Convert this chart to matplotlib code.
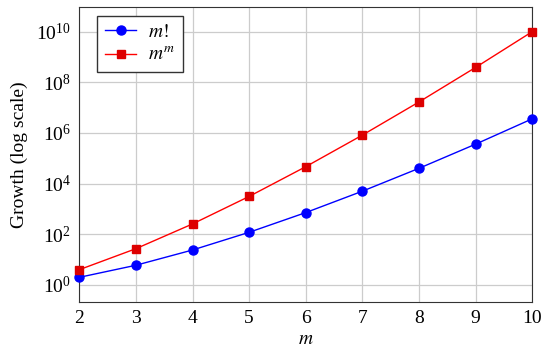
import matplotlib
matplotlib.use('Agg')
import matplotlib.pyplot as plt
from matplotlib.ticker import LogLocator, NullLocator

plt.rcParams['font.family'] = ['Liberation Serif', 'DejaVu Serif']
plt.rcParams['mathtext.fontset'] = 'stix'

m = [2, 3, 4, 5, 6, 7, 8, 9, 10]
factorial = [2, 6, 24, 120, 720, 5040, 40320, 362880, 3628800]
power = [4, 27, 256, 3125, 46656, 823543, 16777216, 387420489, 10000000000]

fig = plt.figure(figsize=(5.5, 3.54), dpi=100)
ax = fig.add_axes([0.144, 0.147, 0.824, 0.834])

ax.plot(m, factorial, color='#0000ff', marker='o', markersize=6.5, linewidth=1, label='$m!$', clip_on=False, zorder=3)
ax.plot(m, power, color='#ff0000', marker='s', markersize=6, markerfacecolor='#dd0000', markeredgecolor='#dd0000',
        linewidth=1, label='$m^m$', clip_on=False, zorder=3)

ax.set_yscale('log')
ax.set_xlim(2, 10)
ax.set_ylim(10**-0.67, 10**10.98)
ax.set_xticks(m)
ax.yaxis.set_major_locator(LogLocator(base=100))
ax.yaxis.set_minor_locator(NullLocator())
ax.tick_params(labelsize=14, direction='in', length=0, pad=6)
ax.grid(True, color='#cccccc', linewidth=0.9)
ax.set_axisbelow(True)
for s in ax.spines.values():
    s.set_color('#333333')

ax.set_xlabel('$m$', fontsize=14, labelpad=3)
ax.set_ylabel('Growth (log scale)', fontsize=14, labelpad=6)

leg = ax.legend(loc='upper left', bbox_to_anchor=(0.04, 0.97), fontsize=14, fancybox=False,
                edgecolor='#333333', framealpha=1, handlelength=1.6, handletextpad=0.6,
                borderaxespad=0, borderpad=0.4, labelspacing=0.3)
leg.get_frame().set_linewidth(1)

fig.savefig('out.png', dpi=100)
